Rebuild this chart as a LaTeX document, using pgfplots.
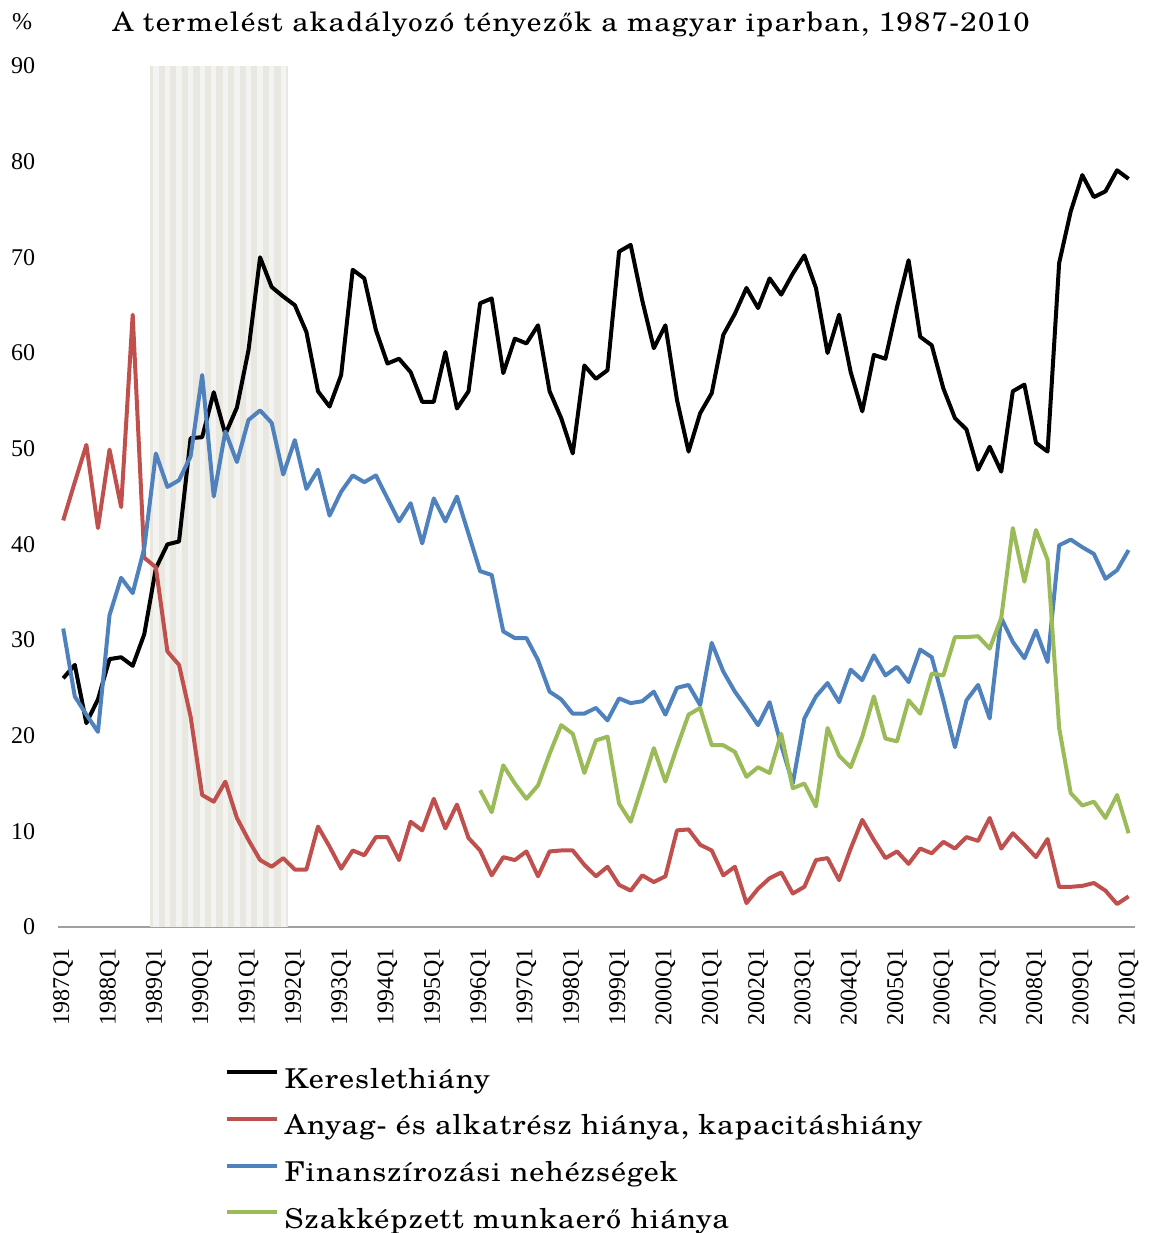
\documentclass[border=0pt]{standalone}
\usepackage{fontspec}
\setmainfont{TeX Gyre Schola}
\newfontfamily\tickfont{Liberation Serif}
\newfontfamily\legfont[FakeStretch=1.1,LetterSpace=3.5]{TeX Gyre Schola}
\newfontfamily\titlefont[FakeStretch=1.1,LetterSpace=5]{TeX Gyre Schola}
\usepackage{pgfplots}
\usepackage{pgfplotstable}
\pgfplotsset{compat=1.18}
\definecolor{cred}{RGB}{192,80,77}
\definecolor{cblue}{RGB}{79,129,189}
\definecolor{cgreen}{RGB}{155,187,89}
\definecolor{bandA}{RGB}{232,232,224}
\definecolor{bandB}{RGB}{243,243,241}
\definecolor{axgray}{RGB}{160,160,160}

\pgfplotstableread{
i v
0 26.0
1 27.4
2 21.3
3 23.8
4 28.0
5 28.2
6 27.3
7 30.6
8 37.5
9 40.0
10 40.3
11 51.1
12 51.2
13 55.9
14 51.5
15 54.3
16 60.3
17 70.0
18 66.9
19 65.9
20 65.0
21 62.2
22 56.0
23 54.4
24 57.7
25 68.7
26 67.8
27 62.4
28 58.9
29 59.4
30 58.0
31 54.9
32 54.9
33 60.1
34 54.2
35 56.0
36 65.2
37 65.7
38 57.9
39 61.5
40 61.0
41 62.9
42 56.0
43 53.2
44 49.5
45 58.7
46 57.3
47 58.2
48 70.6
49 71.3
50 65.5
51 60.5
52 62.9
53 55.1
54 49.7
55 53.7
56 55.8
57 61.9
58 64.1
59 66.8
60 64.7
61 67.8
62 66.1
63 68.3
64 70.2
65 66.8
66 60.0
67 64.0
68 58.0
69 53.9
70 59.8
71 59.4
72 64.8
73 69.7
74 61.7
75 60.8
76 56.3
77 53.2
78 52.0
79 47.8
80 50.2
81 47.6
82 56.0
83 56.7
84 50.6
85 49.7
86 69.4
87 74.8
88 78.6
89 76.3
90 76.9
91 79.1
92 78.2
}\kereslet

\pgfplotstableread{
i v
0 42.5
1 46.5
2 50.4
3 41.7
4 49.9
5 43.9
6 64.0
7 38.6
8 37.6
9 28.8
10 27.4
11 22.0
12 13.8
13 13.1
14 15.2
15 11.4
16 9.1
17 7.0
18 6.3
19 7.2
20 6.0
21 6.0
22 10.5
23 8.4
24 6.1
25 8.0
26 7.5
27 9.4
28 9.4
29 7.0
30 11.0
31 10.1
32 13.4
33 10.3
34 12.8
35 9.3
36 8.0
37 5.4
38 7.3
39 7.0
40 7.9
41 5.3
42 7.9
43 8.0
44 8.0
45 6.5
46 5.3
47 6.3
48 4.4
49 3.8
50 5.4
51 4.7
52 5.3
53 10.1
54 10.2
55 8.6
56 8.0
57 5.4
58 6.3
59 2.5
60 4.0
61 5.1
62 5.7
63 3.5
64 4.2
65 7.0
66 7.2
67 4.9
68 8.2
69 11.2
70 9.1
71 7.2
72 7.9
73 6.6
74 8.2
75 7.7
76 8.9
77 8.2
78 9.4
79 9.0
80 11.4
81 8.2
82 9.8
83 8.6
84 7.3
85 9.2
86 4.2
87 4.2
88 4.3
89 4.6
90 3.8
91 2.4
92 3.2
}\anyag

\pgfplotstableread{
i v
0 31.2
1 24.1
2 22.2
3 20.4
4 32.6
5 36.5
6 34.9
7 39.6
8 49.5
9 46.0
10 46.7
11 49.2
12 57.7
13 45.0
14 51.8
15 48.6
16 53.0
17 54.0
18 52.7
19 47.3
20 50.9
21 45.8
22 47.8
23 43.0
24 45.5
25 47.2
26 46.5
27 47.2
28 44.8
29 42.4
30 44.3
31 40.1
32 44.8
33 42.4
34 45.0
35 41.1
36 37.2
37 36.8
38 30.9
39 30.2
40 30.2
41 27.9
42 24.6
43 23.8
44 22.3
45 22.3
46 22.9
47 21.6
48 23.9
49 23.4
50 23.6
51 24.6
52 22.2
53 25.0
54 25.3
55 23.2
56 29.7
57 26.7
58 24.6
59 22.9
60 21.1
61 23.5
62 19.0
63 15.0
64 21.8
65 24.1
66 25.5
67 23.5
68 26.9
69 25.8
70 28.4
71 26.3
72 27.2
73 25.6
74 29.0
75 28.2
76 23.7
77 18.8
78 23.7
79 25.3
80 21.8
81 32.3
82 29.8
83 28.1
84 31.0
85 27.7
86 39.9
87 40.5
88 39.7
89 39.0
90 36.4
91 37.3
92 39.4
}\finansz

\pgfplotstableread{
i v
36 14.3
37 12.0
38 16.9
39 15.0
40 13.4
41 14.8
42 18.1
43 21.1
44 20.2
45 16.1
46 19.5
47 19.9
48 12.9
49 11.0
50 14.8
51 18.7
52 15.2
53 18.8
54 22.2
55 22.9
56 19.0
57 19.0
58 18.3
59 15.7
60 16.7
61 16.1
62 20.2
63 14.5
64 15.0
65 12.6
66 20.8
67 17.9
68 16.7
69 19.9
70 24.1
71 19.7
72 19.4
73 23.7
74 22.3
75 26.5
76 26.3
77 30.3
78 30.3
79 30.4
80 29.1
81 32.3
82 41.7
83 36.1
84 41.5
85 38.4
86 20.8
87 14.0
88 12.7
89 13.1
90 11.4
91 13.8
92 9.8
}\szakkepzett

\begin{document}
\begin{tikzpicture}
\begin{axis}[
  at={(0,0)}, anchor=south west,
  scale only axis, width=807.75pt, height=645.75pt,
  xmin=-0.45, xmax=92.55, ymin=0, ymax=90,
  axis x line=bottom, axis y line=left,
  x axis line style={-, draw=axgray, line width=1pt},
  y axis line style={draw=none},
  major tick length=0pt,
  xtick={0,4,...,92},
  xticklabels={1987Q1,1988Q1,1989Q1,1990Q1,1991Q1,1992Q1,1993Q1,1994Q1,1995Q1,1996Q1,1997Q1,1998Q1,1999Q1,2000Q1,2001Q1,2002Q1,2003Q1,2004Q1,2005Q1,2006Q1,2007Q1,2008Q1,2009Q1,2010Q1},
  ytick={0,10,...,90},
  /pgf/number format/assume math mode=true,
  tick label style={font=\tickfont\fontsize{18}{20}\selectfont},
  xticklabel style={rotate=90, anchor=east, inner sep=0pt, xshift=-15.75pt},
  yticklabel style={anchor=east, inner sep=0pt, xshift=-17pt},
  legend style={at={(0.15134,-0.16066)}, anchor=north west, draw=none, fill=none,
    font=\legfont\fontsize{20.5}{24}\selectfont, row sep=15pt, column sep=4pt,
    nodes={inner sep=0pt, text height=15pt, text depth=5pt}},
  legend cell align=left,
  legend image code/.code={\draw[#1] (0pt,7pt) -- (37.5pt,7pt);},
  every axis plot/.append style={line width=3pt, line join=round},
]
\addplot[fill=bandA, draw=none, line width=0pt, forget plot] coordinates {(7.5,90) (19.45,90)} \closedcycle;
\addplot[ycomb, draw=bandB, line width=4pt, forget plot] coordinates {(8,90) (9,90) (10,90) (11,90) (12,90) (13,90) (14,90) (15,90) (16,90) (17,90) (18,90) (19,90)};
\addplot[black] table[x=i, y=v] {\kereslet};
\addlegendentry{Kereslethiány}
\addplot[cred] table[x=i, y=v] {\anyag};
\addlegendentry{Anyag- és alkatrész hiánya, kapacitáshiány}
\addplot[cblue] table[x=i, y=v] {\finansz};
\addlegendentry{Finanszírozási nehézségek}
\addplot[cgreen] table[x=i, y=v] {\szakkepzett};
\addlegendentry{Szakképzett munkaerő hiánya}
\end{axis}
\node[anchor=base, inner sep=0pt, font=\titlefont\fontsize{20}{22}\selectfont] at (384.75pt,671.5pt) {A termelést akadályozó tényezők a magyar iparban, 1987-2010};
\node[anchor=base, inner sep=0pt, font=\tickfont\fontsize{18}{20}\selectfont] at (-27pt,672.75pt) {\%};
\pgfresetboundingbox
\useasboundingbox (-43.5pt,-229.5pt) rectangle (818.25pt,695.25pt);
\end{tikzpicture}
\end{document}
